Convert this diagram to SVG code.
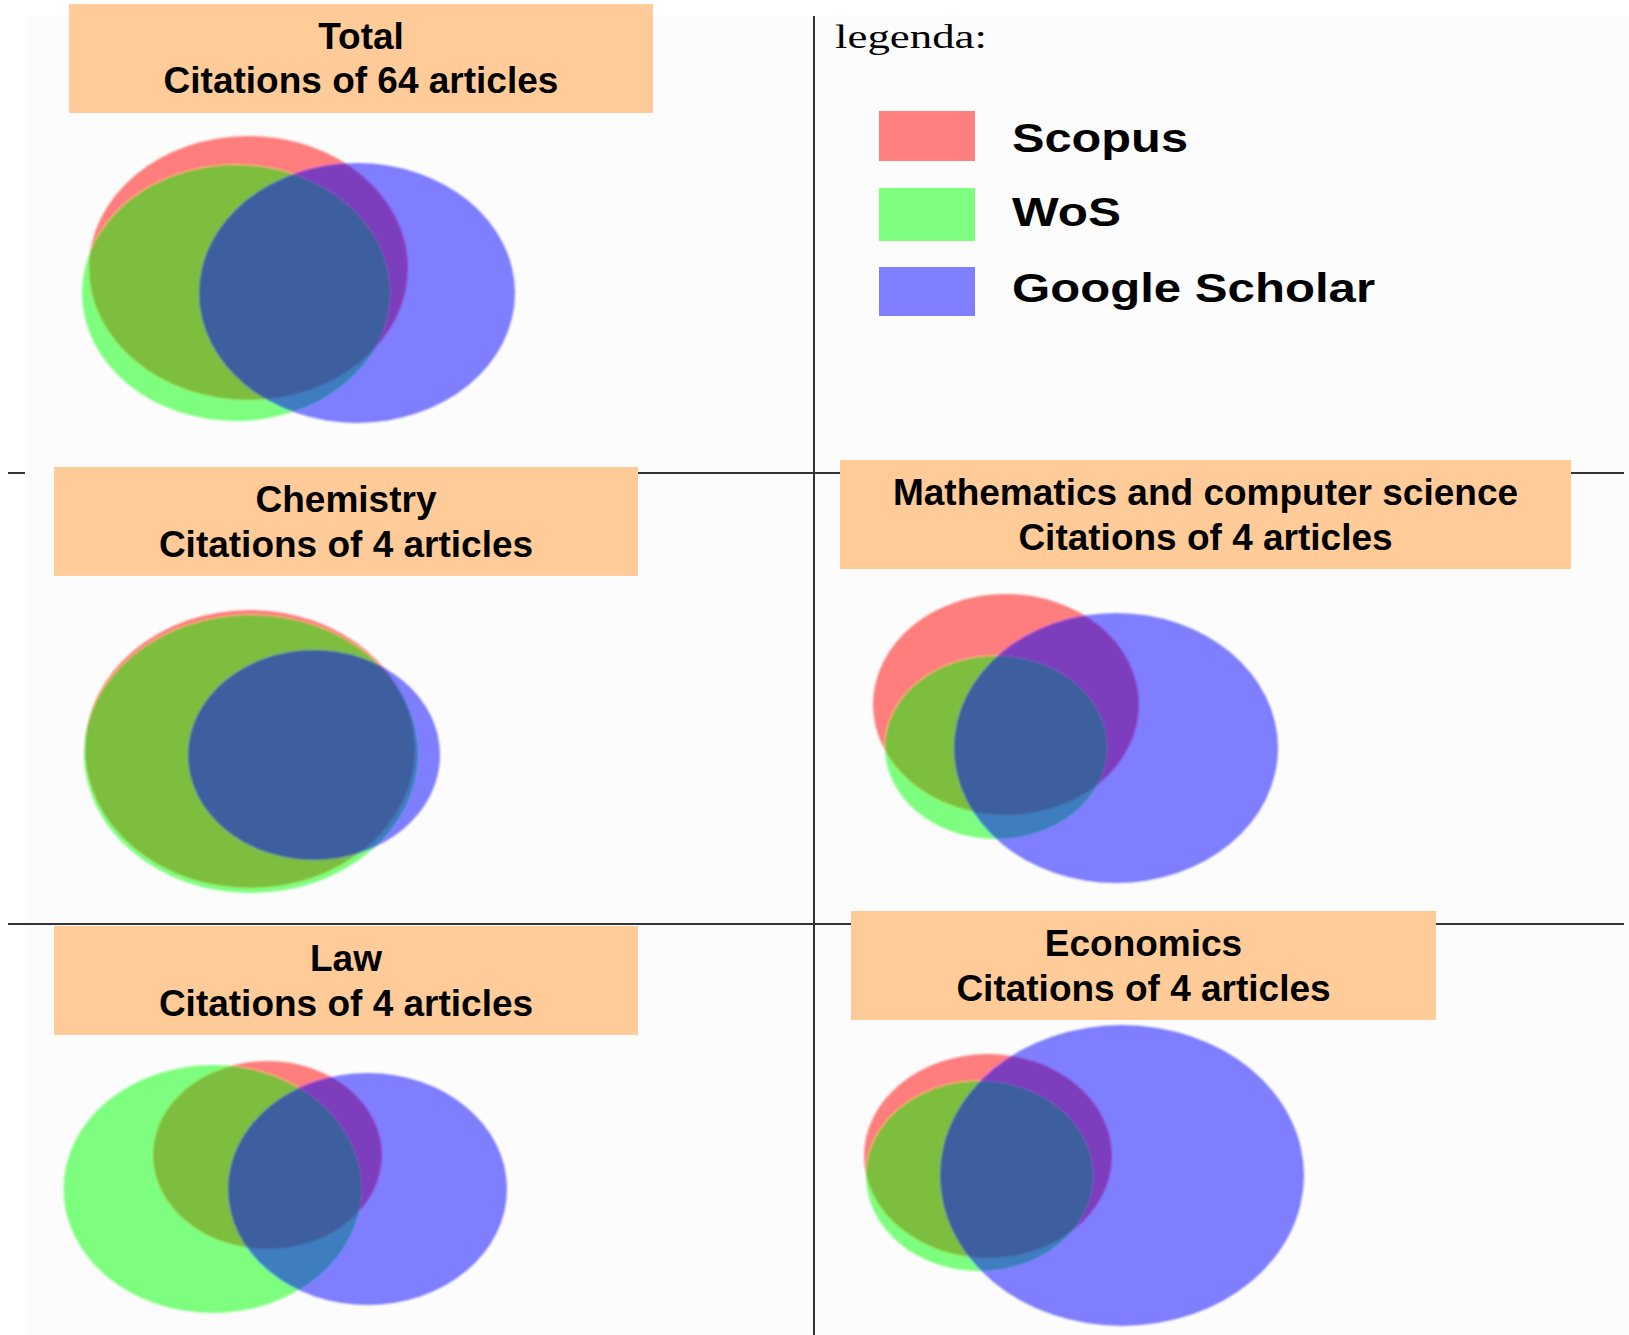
<svg xmlns="http://www.w3.org/2000/svg" width="1629" height="1335" viewBox="0 0 1629 1335">
  <style>
    .title { font-family: "Liberation Sans", Arial, sans-serif; font-weight: bold; font-size: 37px; fill: #000; text-anchor: middle; }
    .leg { font-family: "Liberation Sans", Arial, sans-serif; font-weight: bold; font-size: 40px; fill: #000; }
    .legh { font-family: "Liberation Serif", "Times New Roman", serif; font-size: 34px; fill: #000; }
    .box { fill: #FFCC99; }
    .rule { stroke: #333; stroke-width: 2; fill: none; }
    .sc { fill: #FF0000; fill-opacity: 0.5; }
    .wo { fill: #00FF00; fill-opacity: 0.5; }
    .gs { fill: #0000FF; fill-opacity: 0.5; }
  </style>
  <defs>
    <filter id="soft" x="-5%" y="-5%" width="110%" height="110%">
      <feGaussianBlur stdDeviation="1.1"/>
    </filter>
  </defs>
  <rect x="0" y="0" width="1629" height="1335" fill="#ffffff"/>
  <rect x="26" y="16" width="1603" height="1319" fill="#fcfcfc"/>

  <g id="connectors">
    <line class="rule" x1="814" y1="16" x2="814" y2="1335"/>
    <line class="rule" x1="8" y1="473" x2="25" y2="473"/>
    <line class="rule" x1="637" y1="473" x2="1624" y2="473"/>
    <line class="rule" x1="8" y1="924" x2="1624" y2="924"/>
  </g>

  <g id="legend">
    <text class="legh" x="835" y="48" textLength="152" lengthAdjust="spacingAndGlyphs">legenda:</text>
    <rect x="879" y="111" width="96" height="50" fill="#FF7F7F"/>
    <text class="leg" x="1012" y="152" textLength="176" lengthAdjust="spacingAndGlyphs">Scopus</text>
    <rect x="879" y="188" width="96" height="53" fill="#7FFF7F"/>
    <text class="leg" x="1012" y="226" textLength="109" lengthAdjust="spacingAndGlyphs">WoS</text>
    <rect x="879" y="267" width="96" height="49" fill="#7F7FFF"/>
    <text class="leg" x="1012" y="302" textLength="363" lengthAdjust="spacingAndGlyphs">Google Scholar</text>
  </g>

  <g id="total">
    <rect class="box" x="69" y="4" width="584" height="109"/>
    <text class="title" x="361" y="49">Total</text>
    <text class="title" x="361" y="93">Citations of 64 articles</text>
    <g filter="url(#soft)">
      <ellipse class="sc" cx="248.5" cy="268" rx="159.5" ry="132"/>
      <ellipse class="wo" cx="236" cy="293" rx="154" ry="128"/>
      <ellipse class="gs" cx="357" cy="293" rx="158" ry="130"/>
    </g>
  </g>

  <g id="chemistry">
    <rect class="box" x="54" y="467" width="584" height="109"/>
    <text class="title" x="346" y="512">Chemistry</text>
    <text class="title" x="346" y="556.5">Citations of 4 articles</text>
    <g filter="url(#soft)">
      <ellipse class="sc" cx="250" cy="749" rx="165" ry="139"/>
      <ellipse class="wo" cx="251" cy="754" rx="167" ry="139"/>
      <ellipse class="gs" cx="314" cy="755" rx="126" ry="105"/>
    </g>
  </g>

  <g id="math">
    <rect class="box" x="840" y="460" width="731" height="109"/>
    <text class="title" x="1205.5" y="505">Mathematics and computer science</text>
    <text class="title" x="1205.5" y="549.5">Citations of 4 articles</text>
    <g filter="url(#soft)">
      <ellipse class="sc" cx="1006" cy="704.5" rx="133" ry="110.5"/>
      <ellipse class="wo" cx="996" cy="747.5" rx="111" ry="91.5"/>
      <ellipse class="gs" cx="1116" cy="748" rx="162" ry="135"/>
    </g>
  </g>

  <g id="law">
    <rect class="box" x="54" y="926" width="584" height="109"/>
    <text class="title" x="346" y="971">Law</text>
    <text class="title" x="346" y="1015.5">Citations of 4 articles</text>
    <g filter="url(#soft)">
      <ellipse class="sc" cx="267.5" cy="1155" rx="114.5" ry="94"/>
      <ellipse class="wo" cx="212.5" cy="1189" rx="149" ry="124"/>
      <ellipse class="gs" cx="367.5" cy="1189" rx="139.5" ry="116"/>
    </g>
  </g>

  <g id="economics">
    <rect class="box" x="851" y="911" width="585" height="109"/>
    <text class="title" x="1143.5" y="956">Economics</text>
    <text class="title" x="1143.5" y="1000.5">Citations of 4 articles</text>
    <g filter="url(#soft)">
      <ellipse class="sc" cx="988" cy="1156" rx="124" ry="102"/>
      <ellipse class="wo" cx="979.5" cy="1176" rx="113.5" ry="95"/>
      <ellipse class="gs" cx="1122" cy="1175.5" rx="182" ry="150.5"/>
    </g>
  </g>
</svg>
